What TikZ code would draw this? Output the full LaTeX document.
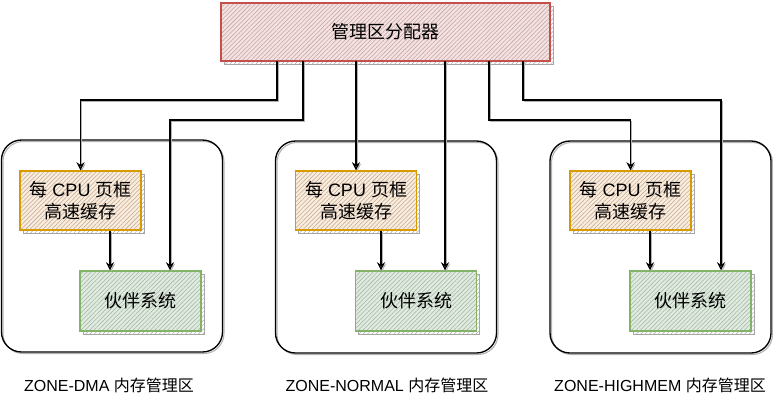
\documentclass[tikz,border=0pt]{standalone}
\usepackage{fontspec}
\setmainfont{Liberation Sans}
\newfontfamily\cjk{Noto Sans CJK SC}
\usetikzlibrary{patterns.meta,arrows.meta}
\definecolor{redline}{HTML}{C4504D}
\definecolor{redfill}{HTML}{F8CECC}
\definecolor{orline}{HTML}{D79B00}
\definecolor{orfill}{HTML}{FFE6CC}
\definecolor{grline}{HTML}{82B366}
\definecolor{grfill}{HTML}{D5E8D4}
\tikzset{
  hatch/.style n args={2}{
    draw=#1, line width=1.1pt,
    preaction={draw=black!35, line width=0.7pt,
      pattern={Lines[angle=45,distance=2.3pt,line width=0.35pt]}, pattern color=black!35,
      transform canvas={shift={(3,3)}}},
    preaction={fill=#2},
    pattern={Lines[angle=45,distance=2.3pt,line width=0.4pt]}, pattern color=black!32,
    inner sep=0pt, font=\fontsize{13.5pt}{16.5pt}\selectfont, align=center},
  topbox/.style={hatch={redline}{redfill!65!white}, minimum width=329*0.75pt, minimum height=58*0.75pt},
  cpubox/.style={hatch={orline}{orfill!80!white}, minimum width=121*0.75pt, minimum height=59*0.75pt},
  buddybox/.style={hatch={grline}{grfill!80!white}, minimum width=121*0.75pt, minimum height=60*0.75pt},
  zonebox/.style={draw=black, line width=1pt, rounded corners=15pt,
    preaction={draw=black!30, line width=0.8pt, rounded corners=15pt, transform canvas={shift={(1.5,1.5)}}},
    minimum width=221*0.75pt, minimum height=212*0.75pt},
  zlabel/.style={font=\fontsize{12pt}{14pt}\selectfont, inner sep=0pt},
  conn/.style={draw=black, line width=0.9pt, -{Stealth[open,length=6pt,width=6pt,inset=2pt]},
    preaction={draw=black!30, line width=0.7pt, transform canvas={shift={(1.2,1.2)}}}}
}
\begin{document}
\begin{tikzpicture}[x=0.75pt,y=-0.75pt]
\useasboundingbox (0,0) rectangle (773,411);
% zones
\node[zonebox] (zL) at (112,246) {};
\node[zonebox] (zM) at (386,247) {};
\node[zonebox] (zR) at (660.5,247) {};
% top
\node[topbox] (top) at (385.5,32) {{\cjk 管理区分配器}};
% per cpu
\node[cpubox] (pcL) at (80.5,200.5) {{\cjk 每} CPU {\cjk 页框}\\{\cjk 高速缓存}};
\node[cpubox] (pcM) at (356,200.5) {{\cjk 每} CPU {\cjk 页框}\\{\cjk 高速缓存}};
\node[cpubox] (pcR) at (630.5,200.5) {{\cjk 每} CPU {\cjk 页框}\\{\cjk 高速缓存}};
% buddy
\node[buddybox] (bL) at (140.5,301) {{\cjk 伙伴系统}};
\node[buddybox] (bM) at (416,301) {{\cjk 伙伴系统}};
\node[buddybox] (bR) at (690.5,301) {{\cjk 伙伴系统}};
% labels
\node[zlabel] (lL) at (109,385) {ZONE-DMA {\cjk 内存管理区}};
\node[zlabel] (lM) at (387,385) {ZONE-NORMAL {\cjk 内存管理区}};
\node[zlabel] (lR) at (660,385) {ZONE-HIGHMEM {\cjk 内存管理区}};
% bend points
\coordinate (k1) at (277,100);
\coordinate (k2) at (303,120);
\coordinate (k3) at (489,120);
\coordinate (k4) at (523,100);
\coordinate (xbL) at (170,0);
\coordinate (xbM) at (445,0);
\coordinate (xbR) at (721,0);
\coordinate (xaL) at (110,0);
\coordinate (xaM) at (381,0);
\coordinate (xaR) at (650,0);
% connectors
\draw[conn] (top.south -| k1) -- (k1) -| (pcL.north);
\draw[conn] (top.south -| k2) -- (k2) -| (bL.north -| xbL);
\draw[conn] (top.south -| pcM.north) -- (pcM.north);
\draw[conn] (top.south -| xbM) -- (bM.north -| xbM);
\draw[conn] (top.south -| k3) -- (k3) -| (pcR.north);
\draw[conn] (top.south -| k4) -- (k4) -| (bR.north -| xbR);
\draw[conn] (pcL.south -| xaL) -- (bL.north -| xaL);
\draw[conn] (pcM.south -| xaM) -- (bM.north -| xaM);
\draw[conn] (pcR.south -| xaR) -- (bR.north -| xaR);
\end{tikzpicture}
\end{document}
